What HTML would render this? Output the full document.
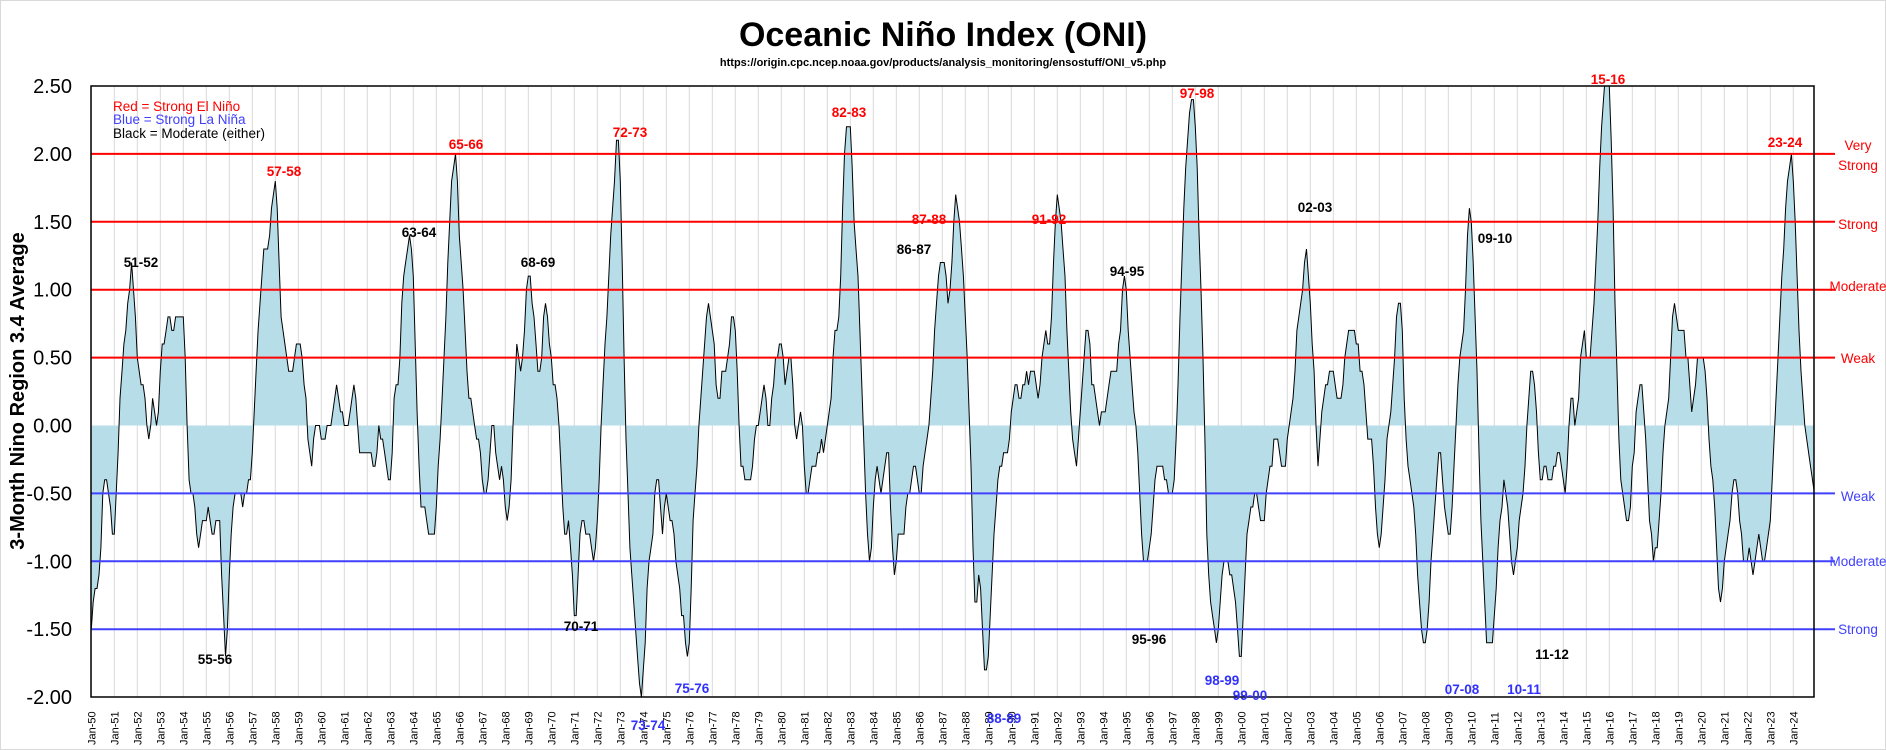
<!DOCTYPE html>
<html><head><meta charset="utf-8"><style>
html,body{margin:0;padding:0;background:#fff}
svg{display:block;font-family:"Liberation Sans",sans-serif}
</style></head><body>
<svg id="s" width="1886" height="750" xmlns="http://www.w3.org/2000/svg">
<rect x="0.5" y="0.5" width="1885" height="749" fill="#fff" stroke="#d9d9d9"/>
<text x="943" y="46" text-anchor="middle" font-size="34" font-weight="bold">Oceanic Niño Index (ONI)</text>
<text x="943" y="66" text-anchor="middle" font-size="11" font-weight="bold">https://origin.cpc.ncep.noaa.gov/products/analysis_monitoring/ensostuff/ONI_v5.php</text>
<defs><clipPath id="c"><rect x="91" y="86" width="1723" height="611"/></clipPath></defs>
<g id="grid"></g>
<g id="area" clip-path="url(#c)"></g>
<g id="lines"></g>
<rect x="91" y="86" width="1723" height="611" fill="none" stroke="#000" stroke-width="1.5"/>
<g id="yt" font-size="20" text-anchor="end"></g>
<g id="xt" font-size="11"></g>
<text transform="translate(24,391) rotate(-90)" text-anchor="middle" font-size="20" font-weight="bold">3-Month Nino Region 3.4 Average</text>
<g font-size="13.5">
<text x="113" y="111" fill="#f00">Red = Strong  El Niño</text>
<text x="113" y="124" fill="#4040ff">Blue = Strong  La Niña</text>
<text x="113" y="138" fill="#000">Black = Moderate  (either)</text>
</g>
<g font-size="13.5" text-anchor="middle">
<text x="1858" y="150" fill="#f00">Very</text>
<text x="1858" y="170" fill="#f00">Strong</text>
<text x="1858" y="229" fill="#f00">Strong</text>
<text x="1858" y="291" fill="#f00">Moderate</text>
<text x="1858" y="363" fill="#f00">Weak</text>
<text x="1858" y="501" fill="#4040ff">Weak</text>
<text x="1858" y="566" fill="#4040ff">Moderate</text>
<text x="1858" y="634" fill="#4040ff">Strong</text>
</g>
<g id="ev" font-size="13.5" font-weight="bold" text-anchor="middle"></g>
</svg>
<script>
var d=`-1.5 -1.3 -1.2 -1.2 -1.1 -0.9 -0.5 -0.4 -0.4 -0.5 -0.6 -0.8
-0.8 -0.5 -0.2 0.2 0.4 0.6 0.7 0.9 1.0 1.2 1.0 0.8
0.5 0.4 0.3 0.3 0.2 0.0 -0.1 0.0 0.2 0.1 0.0 0.1
0.4 0.6 0.6 0.7 0.8 0.8 0.7 0.7 0.8 0.8 0.8 0.8
0.8 0.5 0.0 -0.4 -0.5 -0.5 -0.6 -0.8 -0.9 -0.8 -0.7 -0.7
-0.7 -0.6 -0.7 -0.8 -0.8 -0.7 -0.7 -0.7 -1.1 -1.4 -1.7 -1.5
-1.1 -0.8 -0.6 -0.5 -0.5 -0.5 -0.5 -0.6 -0.5 -0.5 -0.4 -0.4
-0.2 0.1 0.4 0.7 0.9 1.1 1.3 1.3 1.3 1.4 1.6 1.7
1.8 1.6 1.2 0.8 0.7 0.6 0.5 0.4 0.4 0.4 0.5 0.6
0.6 0.6 0.5 0.3 0.2 -0.1 -0.2 -0.3 -0.1 0.0 0.0 0.0
-0.1 -0.1 -0.1 0.0 0.0 0.0 0.1 0.2 0.3 0.2 0.1 0.1
0.0 0.0 0.0 0.1 0.2 0.3 0.2 0.0 -0.2 -0.2 -0.2 -0.2
-0.2 -0.2 -0.2 -0.3 -0.3 -0.2 0.0 -0.1 -0.1 -0.2 -0.3 -0.4
-0.4 -0.2 0.2 0.3 0.3 0.5 0.9 1.1 1.2 1.3 1.4 1.3
1.1 0.6 0.1 -0.3 -0.6 -0.6 -0.6 -0.7 -0.8 -0.8 -0.8 -0.8
-0.6 -0.3 -0.1 0.2 0.5 0.8 1.2 1.5 1.8 1.9 2.0 1.8
1.4 1.2 1.0 0.7 0.4 0.2 0.2 0.1 0.0 -0.1 -0.1 -0.2
-0.4 -0.5 -0.5 -0.4 -0.2 0.0 0.0 -0.2 -0.3 -0.4 -0.3 -0.4
-0.6 -0.7 -0.6 -0.4 0.0 0.3 0.6 0.5 0.4 0.5 0.7 1.0
1.1 1.1 0.9 0.8 0.6 0.4 0.4 0.5 0.8 0.9 0.8 0.6
0.5 0.3 0.3 0.2 0.0 -0.3 -0.6 -0.8 -0.8 -0.7 -0.9 -1.1
-1.4 -1.4 -1.1 -0.8 -0.7 -0.7 -0.8 -0.8 -0.8 -0.9 -1.0 -0.9
-0.7 -0.4 0.0 0.3 0.6 0.8 1.1 1.4 1.6 1.8 2.1 2.1
1.8 1.2 0.5 -0.1 -0.5 -0.9 -1.1 -1.3 -1.5 -1.7 -1.9 -2.0
-1.8 -1.6 -1.2 -1.0 -0.9 -0.8 -0.5 -0.4 -0.4 -0.6 -0.8 -0.6
-0.5 -0.6 -0.7 -0.7 -0.8 -1.0 -1.1 -1.2 -1.4 -1.4 -1.6 -1.7
-1.6 -1.2 -0.7 -0.5 -0.3 0.0 0.2 0.4 0.6 0.8 0.9 0.8
0.7 0.6 0.3 0.2 0.2 0.4 0.4 0.4 0.5 0.6 0.8 0.8
0.7 0.4 0.0 -0.3 -0.3 -0.4 -0.4 -0.4 -0.4 -0.3 -0.1 0.0
0.0 0.1 0.2 0.3 0.2 0.0 0.0 0.2 0.3 0.5 0.5 0.6
0.6 0.5 0.3 0.4 0.5 0.5 0.3 0.0 -0.1 0.0 0.1 0.0
-0.3 -0.5 -0.5 -0.4 -0.3 -0.3 -0.3 -0.2 -0.2 -0.1 -0.2 -0.1
0.0 0.1 0.2 0.5 0.7 0.7 0.8 1.1 1.6 2.0 2.2 2.2
2.2 1.9 1.5 1.3 1.1 0.7 0.3 -0.1 -0.5 -0.8 -1.0 -0.9
-0.6 -0.4 -0.3 -0.4 -0.5 -0.4 -0.3 -0.2 -0.2 -0.6 -0.9 -1.1
-1.0 -0.8 -0.8 -0.8 -0.8 -0.6 -0.5 -0.5 -0.4 -0.3 -0.3 -0.4
-0.5 -0.5 -0.3 -0.2 -0.1 0.0 0.2 0.4 0.7 0.9 1.1 1.2
1.2 1.2 1.1 0.9 1.0 1.2 1.5 1.7 1.6 1.5 1.3 1.1
0.8 0.5 0.1 -0.3 -0.9 -1.3 -1.3 -1.1 -1.2 -1.5 -1.8 -1.8
-1.7 -1.4 -1.1 -0.8 -0.6 -0.4 -0.3 -0.3 -0.2 -0.2 -0.2 -0.1
0.1 0.2 0.3 0.3 0.2 0.2 0.3 0.3 0.4 0.3 0.4 0.4
0.4 0.3 0.2 0.3 0.5 0.6 0.7 0.6 0.6 0.8 1.2 1.5
1.7 1.6 1.5 1.3 1.1 0.7 0.4 0.1 -0.1 -0.2 -0.3 -0.1
0.1 0.3 0.5 0.7 0.7 0.6 0.3 0.3 0.2 0.1 0.0 0.1
0.1 0.1 0.2 0.3 0.4 0.4 0.4 0.4 0.6 0.7 1.0 1.1
1.0 0.7 0.5 0.3 0.1 0.0 -0.2 -0.5 -0.8 -1.0 -1.0 -1.0
-0.9 -0.8 -0.6 -0.4 -0.3 -0.3 -0.3 -0.3 -0.4 -0.4 -0.5 -0.5
-0.5 -0.4 -0.1 0.3 0.8 1.2 1.6 1.9 2.1 2.3 2.4 2.4
2.2 1.9 1.4 1.0 0.5 -0.1 -0.8 -1.1 -1.3 -1.4 -1.5 -1.6
-1.5 -1.3 -1.1 -1.0 -1.0 -1.0 -1.1 -1.1 -1.2 -1.3 -1.5 -1.7
-1.7 -1.4 -1.1 -0.8 -0.7 -0.6 -0.6 -0.5 -0.5 -0.6 -0.7 -0.7
-0.7 -0.5 -0.4 -0.3 -0.3 -0.1 -0.1 -0.1 -0.2 -0.3 -0.3 -0.3
-0.1 0.0 0.1 0.2 0.4 0.7 0.8 0.9 1.0 1.2 1.3 1.1
0.9 0.6 0.4 0.0 -0.3 -0.1 0.1 0.2 0.3 0.3 0.4 0.4
0.4 0.3 0.2 0.2 0.2 0.3 0.5 0.6 0.7 0.7 0.7 0.7
0.6 0.6 0.4 0.4 0.3 0.1 -0.1 -0.1 -0.1 -0.3 -0.6 -0.8
-0.9 -0.8 -0.6 -0.4 -0.1 0.0 0.1 0.3 0.5 0.8 0.9 0.9
0.7 0.2 -0.1 -0.3 -0.4 -0.5 -0.6 -0.8 -1.1 -1.3 -1.5 -1.6
-1.6 -1.5 -1.3 -1.0 -0.8 -0.6 -0.4 -0.2 -0.2 -0.4 -0.6 -0.7
-0.8 -0.8 -0.6 -0.3 0.0 0.3 0.5 0.6 0.7 1.0 1.4 1.6
1.5 1.2 0.8 0.4 -0.2 -0.7 -1.0 -1.3 -1.6 -1.6 -1.6 -1.6
-1.4 -1.2 -0.9 -0.7 -0.6 -0.4 -0.5 -0.6 -0.8 -1.0 -1.1 -1.0
-0.9 -0.7 -0.6 -0.5 -0.3 0.0 0.2 0.4 0.4 0.3 0.1 -0.2
-0.4 -0.4 -0.3 -0.3 -0.4 -0.4 -0.4 -0.3 -0.3 -0.2 -0.2 -0.3
-0.4 -0.5 -0.3 0.0 0.2 0.2 0.0 0.1 0.2 0.5 0.6 0.7
0.5 0.5 0.5 0.7 0.9 1.2 1.5 1.9 2.2 2.4 2.6 2.6
2.5 2.1 1.6 0.9 0.4 -0.1 -0.4 -0.5 -0.6 -0.7 -0.7 -0.6
-0.3 -0.2 0.1 0.2 0.3 0.3 0.1 -0.1 -0.4 -0.7 -0.8 -1.0
-0.9 -0.9 -0.7 -0.5 -0.2 0.0 0.1 0.2 0.5 0.8 0.9 0.8
0.7 0.7 0.7 0.7 0.5 0.5 0.3 0.1 0.2 0.3 0.5 0.5
0.5 0.5 0.4 0.2 -0.1 -0.3 -0.4 -0.6 -0.9 -1.2 -1.3 -1.2
-1.0 -0.9 -0.8 -0.7 -0.5 -0.4 -0.4 -0.5 -0.7 -0.8 -1.0 -1.0
-1.0 -0.9 -1.0 -1.1 -1.0 -0.9 -0.8 -0.9 -1.0 -1.0 -0.9 -0.8
-0.7 -0.4 -0.1 0.2 0.5 0.8 1.1 1.3 1.6 1.8 1.9 2.0
1.8 1.5 1.1 0.7 0.4 0.2 0.0 -0.1 -0.2 -0.3 -0.4 -0.5`.trim().split(/\s+/).map(Number);
var NS="http://www.w3.org/2000/svg";
function el(p,t,a,txt){var e=document.createElementNS(NS,t);for(var k in a)e.setAttribute(k,a[k]);if(txt!=null)e.textContent=txt;document.getElementById(p).appendChild(e);return e;}
var X0=91.3,DX=23/12,Y=function(v){return 86+(2.5-v)*135.8;};
// grid
for(var y=0;y<75;y++){var x=X0+y*23;el("grid","line",{x1:x,x2:x,y1:86,y2:697,stroke:"#d9d9d9","stroke-width":1});
 var lab="Jan-"+String(50+y).slice(-2).padStart(2,"0"); if(y>=50)lab="Jan-"+String(y-50).padStart(2,"0");
 el("xt","text",{transform:"translate("+(x+4)+",745) rotate(-90)"},lab);}
// area
var pts=d.map(function(v,i){return (X0+i*DX).toFixed(1)+","+Y(v).toFixed(1);});
var last=X0+(d.length-1)*DX;
el("area","path",{d:"M"+X0+","+Y(0)+" L"+pts.join(" L")+" L"+last+","+Y(0)+"Z",fill:"#b7dde8",stroke:"none"});
el("area","polyline",{points:pts.join(" "),fill:"none",stroke:"#000","stroke-width":1});
// lines
[[2,"#f00"],[1.5,"#f00"],[1,"#f00"],[0.5,"#f00"],[-0.5,"#4040ff"],[-1,"#4040ff"],[-1.5,"#4040ff"]].forEach(function(a){
 el("lines","line",{x1:91,x2:1835,y1:Y(a[0]),y2:Y(a[0]),stroke:a[1],"stroke-width":2});});
// y ticks
for(var v=2.5;v>=-2.001;v-=0.5){el("yt","text",{x:72,y:Y(v)+7},v.toFixed(2));}
// events
var R="#f00",B="#3030ff",K="#000";
[["51-52",141,267,K],["57-58",284,176,R],["55-56",215,664,K],["63-64",419,237,K],["65-66",466,149,R],["68-69",538,267,K],["70-71",581,631,K],["72-73",630,137,R],["73-74",648,730,B],["75-76",692,693,B],["82-83",849,117,R],["87-88",929,224,R],["86-87",914,254,K],["88-89",1004,723,B],["91-92",1049,224,R],["94-95",1127,276,K],["95-96",1149,644,K],["97-98",1197,98,R],["98-99",1222,685,B],["99-00",1250,700,B],["02-03",1315,212,K],["07-08",1462,694,B],["09-10",1495,243,K],["10-11",1524,694,B],["11-12",1552,659,K],["15-16",1608,84,R],["23-24",1785,147,R]].forEach(function(e){
 el("ev","text",{x:e[1],y:e[2],fill:e[3]},e[0]);});
</script>
</body></html>
